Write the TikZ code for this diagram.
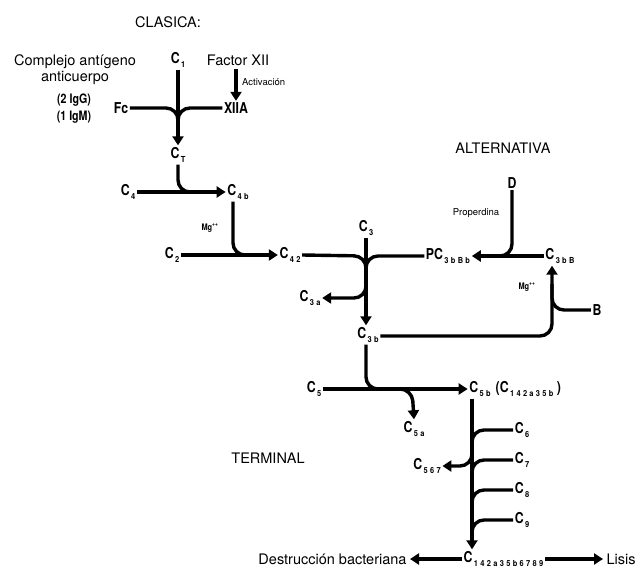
\documentclass[tikz,border=0pt]{standalone}
\usepackage{fontspec}
\setmainfont{TeX Gyre Heros}
\newfontfamily\labfont[FakeStretch=0.82]{TeX Gyre Heros}
\newfontfamily\subfont[FakeStretch=0.9,LetterSpace=28]{TeX Gyre Heros}
\usetikzlibrary{arrows.meta}
\newcommand{\sub}[1]{\raisebox{-0.6ex}{\subfont\bfseries\fontsize{8.3}{9}\selectfont\,#1}}
\newcommand{\comp}[1]{C\sub{#1}}

\begin{document}
\begin{tikzpicture}[x=1pt,y=-1pt,
  font=\fontsize{14.5}{16}\selectfont,
  lab/.style={font=\labfont\bfseries\fontsize{15}{16}\selectfont,inner sep=1.5pt},
  small/.style={font=\fontsize{9.5}{11}\selectfont,inner sep=1pt},
  flow/.style={line width=3.4pt},
  arr/.style={flow,-{Triangle[length=9pt,width=11pt]}},
  curve/.style={rounded corners=12pt}]
\useasboundingbox (0,0) rectangle (636,569);
% clasica
\node (clasica) at (168,22) {CLASICA:};
\node[align=center] (complejo) at (75,70) {Complejo antígeno\\anticuerpo};
\node[lab,align=center,font=\labfont\bfseries\fontsize{13}{17}\selectfont] (ig) at (74,109) {(2 IgG)\\(1 IgM)};
\node[lab] (c1) at (178,60) {\comp{1}};
\node (factor) at (238,60) {Factor XII};
\node[small,anchor=west] (activ) at (241,82) {Activación};
\node[lab] (fc) at (121,108) {Fc};
\node[lab] (xiia) at (236,108) {XIIA};
\node[lab] (ct) at (178,155) {\comp{T}};
\node[lab] (c4) at (128,192) {\comp{4}};
\node[lab] (c4b) at (238,192) {\comp{4b}};
\node[lab,font=\labfont\bfseries\fontsize{9}{10}\selectfont] (mg1) at (210,228) {Mg\textsuperscript{++}};
\node[lab] (c2) at (172,255) {\comp{2}};
\node[lab] (c42) at (290,255) {\comp{42}};
\node[lab] (c3) at (366,228) {\comp{3}};
\node[lab] (c3a) at (310,298) {\comp{3a}};
\node[lab] (c3b) at (368,335) {\comp{3b}};
% alternativa
\node (alt) at (503,148) {ALTERNATIVA};
\node[lab] (d) at (512,183) {D};
\node[small] (prop) at (476,213) {Properdina};
\node[lab] (pc) at (448,256) {PC\sub{3bBb}};
\node[lab] (c3bb) at (560,256) {\comp{3bB}};
\node[lab,font=\labfont\bfseries\fontsize{9}{10}\selectfont] (mg2) at (527,287) {Mg\textsuperscript{++}};
\node[lab] (b) at (597,310) {B};
% terminal
\node[lab] (c5) at (314,389) {\comp{5}};
\node[lab] (c5a) at (414,429) {\comp{5a}};
\node[lab] (c5b) at (480,389) {\comp{5b}};
\node[lab,anchor=west] (c5par) at (494,389) {(\comp{142a35b} )};
\node (terminal) at (268,458) {TERMINAL};
\node[lab] (c6) at (522,430) {\comp{6}};
\node[lab] (c7) at (522,460) {\comp{7}};
\node[lab] (c8) at (522,490) {\comp{8}};
\node[lab] (c9) at (522,520) {\comp{9}};
\node[lab] (c567) at (427,466) {\comp{567}};
\node[lab,anchor=west] (cfin) at (462,559) {\comp{142a35b6789}};
\node[anchor=east] (destr) at (410,559) {Destrucción bacteriana};
\node[anchor=west] (lisis) at (603,559) {Lisis};
\coordinate (m1) at (178,108);
\coordinate (m2) at (178,192);
\coordinate (m3) at (233,255);
\coordinate (m4) at (366,256);
\coordinate (m5a) at (366,276);
\coordinate (m5) at (366,298);
\coordinate (m6) at (512,256);
\coordinate (m7) at (552,336);
\coordinate (m8) at (552,310);
\coordinate (m9) at (366,389);
\coordinate (m10a) at (388,389);
\coordinate (m10) at (412,389);
\coordinate (tv) at (472,389);
\coordinate (m11a) at (472,443);
\coordinate (m11) at (472,466);
\draw[flow,curve] (fc.east) -- (m1) -- ++(0,26);
\draw[flow,curve] (xiia.west) -- (m1) -- ++(0,26);
\draw[arr] (c1.south) -- (ct.north);
\draw[arr] (factor.south -| xiia.north) -- (xiia.north);
\draw[flow,curve] (ct.south) -- (m2) -- ++(30,0);
\draw[arr] (c4.east) -- (c4b.west);
\draw[flow,curve] (c4b.south -| m3) -- (m3) -- ++(25,0);
\draw[arr] (c2.east) -- (c42.west);
\draw[flow,curve] (c42.east) -- (m4) -- ++(0,26);
\draw[flow,curve] (pc.west) -- (m4) -- ++(0,26);
\draw[arr] (c3.south) -- (c3b.north -| c3.south);
\draw[arr,curve] (m5a) -- (m5) -- (c3a.east);
\draw[arr] (c3bb.west) -- (pc.east);
\draw[flow,curve] (d.south) -- (m6) -- ++(-26,0);
\draw[arr,curve] (c3b.east |- m7) -- (m7) -- (c3bb.south -| m7);
\draw[flow,curve] (b.west) -- (m8) -- ++(0,-26);
\draw[flow,curve] (c3b.south -| m9) -- (m9) -- ++(30,0);
\draw[arr] (c5.east) -- (c5b.west);
\draw[arr,curve] (m10a) -- (m10) -- (c5a.north);
\draw[arr] (c5b.south -| tv) -- (cfin.north -| tv);
\foreach \n in {6,7,8,9}
  \draw[flow,curve] (c\n.west) -- (c\n.west -| tv) -- ++(0,24);
\draw[arr,curve] (m11a) -- (m11) -- (c567.east);
\draw[arr] (cfin.west) -- (destr.east);
\draw[arr] (cfin.east) -- (lisis.west);
\end{tikzpicture}
\end{document}
